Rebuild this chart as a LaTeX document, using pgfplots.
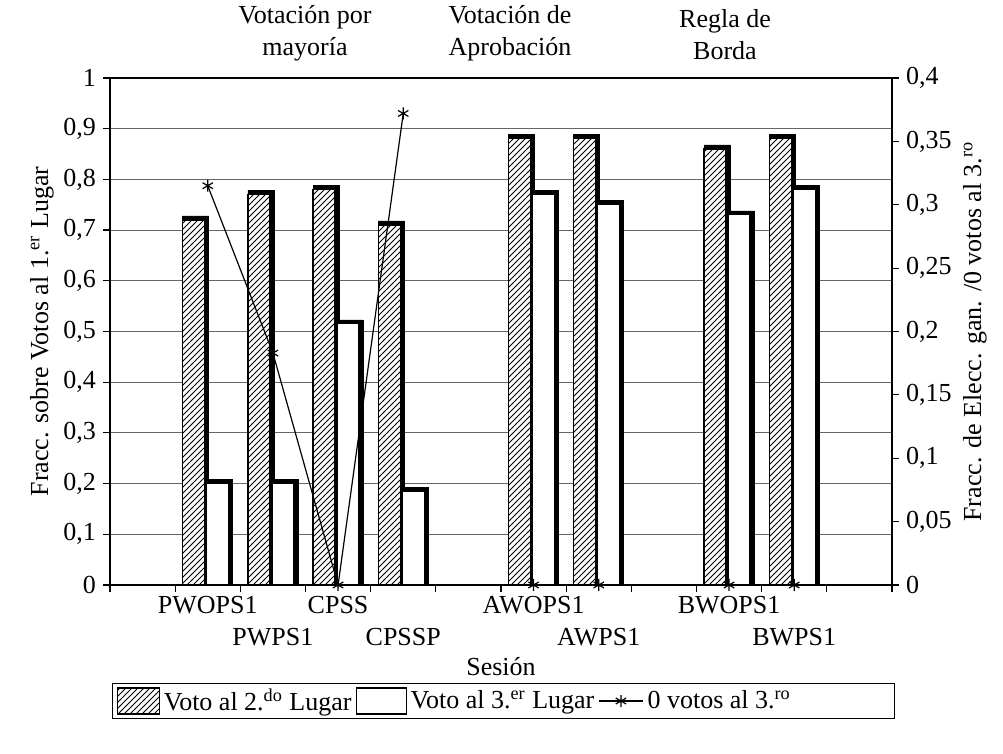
\documentclass[border=0pt]{standalone}
\usepackage{fontspec}
\setmainfont{Liberation Serif}
\usepackage{pgfplots}
\pgfplotsset{compat=1.18}
\usetikzlibrary{patterns}

\tikzset{
  hatchbar/.style={draw=black, line width=0.6pt, fill=white, postaction={pattern=north east lines}},
  whitebar/.style={draw=black, line width=0.6pt, fill=white},
  shadowbar/.style={draw=black, fill=black, line width=0.3pt},
}
\newcommand{\fnt}{\fontsize{13}{16}\selectfont}

\begin{document}
\begin{tikzpicture}
\path[use as bounding box] (-55pt,-84.5pt) rectangle (446.5pt,292.5pt);

\begin{axis}[
  at={(0pt,0pt)}, anchor=south west,
  scale only axis, width=391pt, height=253.5pt,
  xmin=-0.5, xmax=11.5, ymin=0, ymax=1,
  axis line style={black, line width=0.8pt},
  tick style={black, line width=0.6pt},
  tick align=outside, major tick length=3.5pt,
  xtick={-0.5,0.5,...,11.5}, xticklabels={},
  extra x ticks={1,2,3,4,6,7,9,10},
  extra x tick labels={PWOPS1,\raisebox{-16pt}{PWPS1},CPSS,\raisebox{-16pt}{CPSSP},AWOPS1,\raisebox{-16pt}{AWPS1},BWOPS1,\raisebox{-16pt}{BWPS1}},
  extra x tick style={major tick length=0pt, tick label style={anchor=base, yshift=-14.5pt}},
  xtick pos=bottom, ytick pos=left,
  ytick={0,0.1,0.2,0.3,0.4,0.5,0.6,0.7,0.8,0.9,1},
  yticklabels={0,{0,1},{0,2},{0,3},{0,4},{0,5},{0,6},{0,7},{0,8},{0,9},1},
  ymajorgrids, grid style={black!60, line width=0.45pt},
  tick label style={font=\fnt},
  xlabel={Sesión},
  every axis x label/.style={at={(axis description cs:0.5,0)}, anchor=base, yshift=-45.5pt, font=\fnt},
  ylabel={Fracc. sobre Votos al 1.\textsuperscript{er} Lugar},
  every axis y label/.style={at={(axis description cs:-0.087,0.5)}, rotate=90, anchor=center, font=\fnt},
]
% Voto al 2.do Lugar (shadow + bar)
\addplot[ybar, bar width=13pt, bar shift=-6pt, shadowbar, forget plot] coordinates {
  (1,0.728) (2,0.778) (3,0.788) (4,0.718) (6,0.888) (7,0.888) (9,0.868) (10,0.888)};
\addplot[ybar, bar width=11pt, bar shift=-7pt, hatchbar, forget plot] coordinates {
  (1,0.72) (2,0.77) (3,0.78) (4,0.71) (6,0.88) (7,0.88) (9,0.86) (10,0.88)};
% Voto al 3.er Lugar (shadow + bar)
\addplot[ybar, bar width=13pt, bar shift=6pt, shadowbar, forget plot] coordinates {
  (1,0.208) (2,0.208) (3,0.523) (4,0.193) (6,0.778) (7,0.758) (9,0.738) (10,0.788)};
\addplot[ybar, bar width=11pt, bar shift=5pt, whitebar, forget plot] coordinates {
  (1,0.2) (2,0.2) (3,0.515) (4,0.185) (6,0.77) (7,0.75) (9,0.73) (10,0.78)};
\end{axis}

\begin{axis}[
  at={(0pt,0pt)}, anchor=south west,
  scale only axis, width=391pt, height=253.5pt,
  xmin=-0.5, xmax=11.5, ymin=0, ymax=0.4,
  axis x line=none, axis y line*=right,
  axis line style={black, line width=0.8pt},
  tick style={black, line width=0.6pt},
  tick align=outside, major tick length=3.5pt,
  ytick={0,0.05,0.1,0.15,0.2,0.25,0.3,0.35,0.4},
  yticklabels={0,{0,05},{0,1},{0,15},{0,2},{0,25},{0,3},{0,35},{0,4}},
  tick label style={font=\fnt},
  ylabel={Fracc. de Elecc. gan. /0 votos al 3.\textsuperscript{ro}},
  every axis y label/.style={at={(axis description cs:1.106,0.5)}, rotate=90, anchor=center, font=\fnt},
  clip=false, unbounded coords=jump,
  legend columns=3,
  legend style={at={(axis description cs:0.0026,-0.193)}, anchor=north west,
    draw=black, line width=0.6pt, font=\fnt, inner ysep=0pt, inner xsep=2pt,
    nodes={inner ysep=2.7pt},
    /tikz/every even column/.append style={column sep=0pt}},
  legend cell align=left,
]
\addlegendimage{legend image code/.code={\draw[draw=black, line width=0.6pt, fill=white, postaction={pattern=north east lines}] (0pt,-6.5pt) rectangle (21pt,6.5pt);}}
\addlegendentry{Voto al 2.\textsuperscript{do} Lugar}
\addlegendimage{legend image code/.code={\draw[draw=black, line width=0.6pt, fill=white] (0pt,-6.5pt) rectangle (25pt,6.5pt);}}
\addlegendentry{Voto al 3.\textsuperscript{er} Lugar}
\addplot[black, line width=0.6pt, mark=asterisk, mark size=3pt,
  legend image code/.code={\draw[black, line width=0.6pt, mark repeat=2, mark phase=2] plot coordinates {(0pt,0pt) (11pt,0pt) (22pt,0pt)};}]
  coordinates {(0,nan) (1,0.315) (2,0.183) (3,0) (4,0.372) (5,nan) (6,0) (7,0) (8,nan) (9,0) (10,0) (11,nan)};
\addlegendentry{0 votos al 3.\textsuperscript{ro}\rule{48pt}{0pt}}
\end{axis}

\node[align=center, font=\fnt] at (97.5pt,276pt) {Votación por\\mayoría};
\node[align=center, font=\fnt] at (200pt,276pt) {Votación de\\Aprobación};
\node[align=center, font=\fnt] at (307.5pt,275pt) {Regla de\\Borda};
\end{tikzpicture}
\end{document}
